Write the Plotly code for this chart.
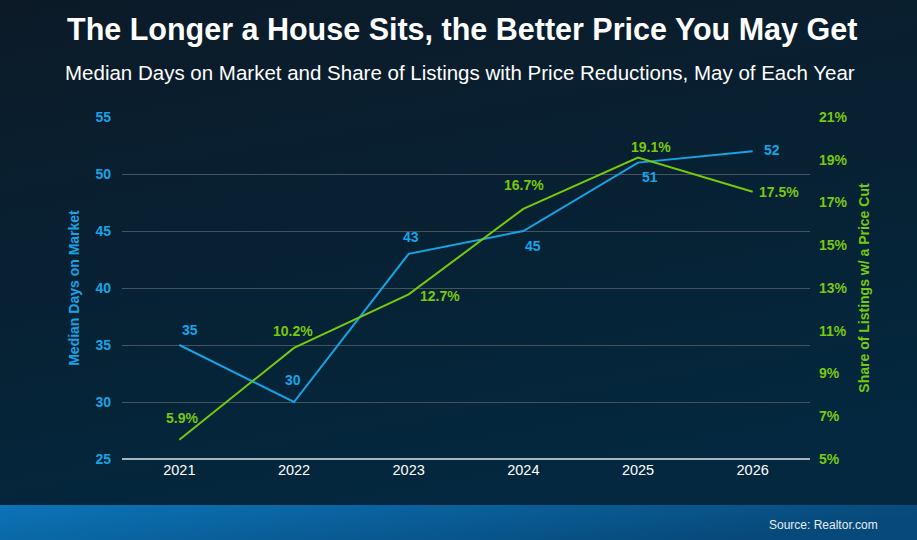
import base64
import plotly.graph_objects as go

years = ["2021", "2022", "2023", "2024", "2025", "2026"]
days_on_market = [35, 30, 43, 45, 51, 52]
price_cut_share = [5.9, 10.2, 12.7, 16.7, 19.1, 17.5]

# label offsets in px from each point (x, y up)
days_shift = [(11, 15), (-1, 22), (2, 17), (10, -15), (12, -14), (19, 1)]
share_shift = [(3, 22), (-1, 17), (31, -2), (1, 24), (13, 11), (26, 0)]

BLUE = "#16a4e6"
GREEN = "#78c80f"
W, H = 917, 540
L, R, T, B = 122, 107, 117, 81
PW, PH = W - L - R, H - T - B

# gradient background + bottom band drawn as an inline svg
svg = """<svg xmlns='http://www.w3.org/2000/svg' width='917' height='540' viewBox='0 0 917 540' preserveAspectRatio='none'>
<defs>
<linearGradient id='bg' x1='0' y1='0' x2='0.3' y2='1'>
<stop offset='0' stop-color='#0c1a27'/><stop offset='1' stop-color='#03283f'/></linearGradient>
<linearGradient id='band' x1='0' y1='0' x2='1' y2='0.3'>
<stop offset='0' stop-color='#0c74b8'/><stop offset='1' stop-color='#07497a'/></linearGradient>
</defs>
<rect x='0' y='0' width='917' height='540' fill='url(#bg)'/>
<rect x='0' y='505' width='917' height='35' fill='url(#band)'/>
</svg>"""
bg_src = "data:image/svg+xml;base64," + base64.b64encode(svg.encode()).decode()

fig = go.Figure()
fig.add_trace(go.Scatter(x=years, y=days_on_market, mode="lines",
                         line=dict(color=BLUE, width=2), showlegend=False, hoverinfo="skip"))
fig.add_trace(go.Scatter(x=years, y=price_cut_share, mode="lines", yaxis="y2",
                         line=dict(color=GREEN, width=2), showlegend=False, hoverinfo="skip"))

annotations = []
for i, (v, (dx, dy)) in enumerate(zip(days_on_market, days_shift)):
    annotations.append(dict(x=i, y=v, xref="x", yref="y", text="<b>%d</b>" % v,
                            showarrow=False, xshift=dx, yshift=dy,
                            font=dict(color=BLUE, size=14)))
for i, (v, (dx, dy)) in enumerate(zip(price_cut_share, share_shift)):
    annotations.append(dict(x=i, y=v, xref="x", yref="y2", text="<b>%.1f%%</b>" % v,
                            showarrow=False, xshift=dx, yshift=dy,
                            font=dict(color=GREEN, size=14)))

annotations += [
    dict(text="<b>The Longer a House Sits, the Better Price You May Get</b>",
         xref="paper", yref="paper", x=(65 - L) / PW, y=1 + (T - 30) / PH,
         xanchor="left", yanchor="middle", showarrow=False,
         font=dict(size=30.5, color="white")),
    dict(text="Median Days on Market and Share of Listings with Price Reductions, May of Each Year",
         xref="paper", yref="paper", x=(63 - L) / PW, y=1 + (T - 72) / PH,
         xanchor="left", yanchor="middle", showarrow=False,
         font=dict(size=20.5, color="white")),
    dict(text="Source: Realtor.com", xref="paper", yref="paper",
         x=(880 - L) / PW, y=-(525 - (T + PH)) / PH,
         xanchor="right", yanchor="middle", showarrow=False,
         font=dict(size=12, color="#e6eef4")),
]

fig.update_layout(
    width=W, height=H,
    margin=dict(l=L, r=R, t=T, b=B),
    paper_bgcolor="#071f33",
    plot_bgcolor="rgba(0,0,0,0)",
    font=dict(family="Liberation Sans", color="white"),
    images=[dict(source=bg_src, xref="paper", yref="paper",
                 x=-L / PW, y=1 + T / PH, sizex=W / PW, sizey=H / PH,
                 xanchor="left", yanchor="top", sizing="stretch", layer="below")],
    xaxis=dict(
        type="category", range=[-0.5, 5.5], showgrid=False,
        tickfont=dict(color="white", size=14.5), ticks="",
        showline=False, zeroline=False,
    ),
    yaxis=dict(
        range=[25, 55], dtick=5, gridcolor="#46525c", gridwidth=1,
        tickfont=dict(color=BLUE, size=14, weight="bold"),
        title=dict(text="Median Days on Market", font=dict(color=BLUE, size=14, weight="bold"), standoff=12),
        zeroline=False, ticklabelstandoff=10,
    ),
    yaxis2=dict(
        range=[5, 21], tick0=5, dtick=2, overlaying="y", side="right", showgrid=False,
        ticksuffix="%",
        tickfont=dict(color=GREEN, size=14, weight="bold"),
        title=dict(text="Share of Listings w/ a Price Cut", font=dict(color=GREEN, size=14, weight="bold"), standoff=12),
        zeroline=False, ticklabelstandoff=8,
    ),
    shapes=[dict(type="line", xref="paper", yref="paper", x0=0, x1=1, y0=0, y1=0,
                 line=dict(color="#a9b3bb", width=2))],
    annotations=annotations,
)

fig.write_html("out.html", config={"displayModeBar": False},
               post_script="document.body.style.margin='0';")
